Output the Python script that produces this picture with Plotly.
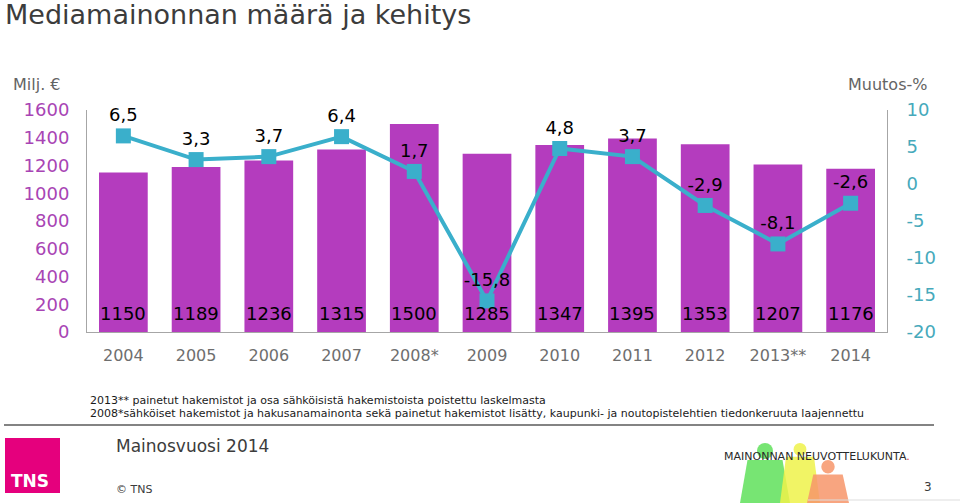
import plotly.graph_objects as go

years = ["2004", "2005", "2006", "2007", "2008*", "2009", "2010", "2011", "2012", "2013**", "2014"]
volume = [1150, 1189, 1236, 1315, 1500, 1285, 1347, 1395, 1353, 1207, 1176]
change = [6.5, 3.3, 3.7, 6.4, 1.7, -15.8, 4.8, 3.7, -2.9, -8.1, -2.6]
left_ticks = [0, 200, 400, 600, 800, 1000, 1200, 1400, 1600]
right_ticks = [-20, -15, -10, -5, 0, 5, 10]

W, H = 960, 503
L, R, T, B = 87, 73, 110, 171
PW, PH = W - L - R, H - T - B

def px(x):
    return (x - L) / PW

def py(y):
    return (H - B - y) / PH

FONT = "DejaVu Sans"
BAR_COLOR = "#b43cbe"
LINE_COLOR = "#3aafcb"

fig = go.Figure()
fig.add_trace(go.Bar(
    x=years, y=volume, marker=dict(color=BAR_COLOR, line=dict(width=0)),
    yaxis="y", showlegend=False, hoverinfo="skip",
))
fig.add_trace(go.Scatter(
    x=years, y=change, yaxis="y2", mode="lines+markers+text",
    line=dict(color=LINE_COLOR, width=4),
    marker=dict(symbol="square", size=15, color=LINE_COLOR),
    text=[f"{v:.1f}".replace(".", ",") for v in change],
    textposition="top center",
    textfont=dict(family=FONT, size=18, color="#000000"),
    showlegend=False, cliponaxis=False, hoverinfo="skip",
))

fig.update_layout(
    width=W, height=H,
    margin=dict(l=L, r=R, t=T, b=B, autoexpand=False),
    paper_bgcolor="white", plot_bgcolor="white",
    font=dict(family=FONT),
    bargap=0.33,
    hovermode=False,
    xaxis=dict(type="category", categoryorder="array", categoryarray=years,
               range=[-0.5, len(years) - 0.5],
               showline=True, linecolor="#a6a6a6", linewidth=1, showgrid=False, automargin=False,
               tickfont=dict(size=16, color="#6e6e6e"), ticks="", ticklabelstandoff=9),
    yaxis=dict(range=[0, 1600], tickvals=left_ticks, showgrid=False, zeroline=False, automargin=False,
               showline=True, linecolor="#a6a6a6", linewidth=1,
               tickfont=dict(size=18, color="#a844b4"), ticks="", ticklabelstandoff=13),
    yaxis2=dict(range=[-20, 10], tickvals=right_ticks, ticktext=[str(v) for v in right_ticks],
                overlaying="y", side="right", automargin=False,
                showgrid=False, zeroline=False, showline=True, linecolor="#a6a6a6", linewidth=1,
                tickfont=dict(size=18, color="#46a9bb"), ticks="", ticklabelstandoff=15),
)

ann = []
# bar value labels at the base of each bar (x given as category index)
for i, v in enumerate(volume):
    ann.append(dict(x=i, y=0, xref="x", yref="y", text=str(v), showarrow=False,
                    yanchor="bottom", yshift=6,
                    font=dict(family=FONT, size=18, color="#000000")))

def text(x, y, s, size, color="#404040", xanchor="left", yanchor="middle", bold=False):
    ann.append(dict(x=px(x), y=py(y), xref="paper", yref="paper", text=f"<b>{s}</b>" if bold else s,
                    showarrow=False, xanchor=xanchor, yanchor=yanchor,
                    font=dict(family=FONT, size=size, color=color)))

text(3, 14, "Mediamainonnan määrä ja kehitys", 27, "#3c3c3c")
text(11, 84, "Milj. €", 16, "#646464")
text(929, 84, "Muutos-%", 16, "#646464", xanchor="right")

shapes = []
# MNK logo silhouettes
def figure_shape(cx, top, w, color):
    head_r = w * 0.16
    shapes.append(dict(type="circle", xref="paper", yref="paper",
                       x0=px(cx - head_r), x1=px(cx + head_r), y0=py(top + 2 * head_r), y1=py(top),
                       fillcolor=color, line=dict(width=0), opacity=0.85, layer="above"))
    st = top + 2 * head_r + 1
    pts = [(cx - w * 0.35, st), (cx + w * 0.35, st), (cx + w * 0.5, 503), (cx - w * 0.5, 503)]
    path = "M " + " L ".join(f"{px(x)},{py(y)}" for x, y in pts) + " Z"
    shapes.append(dict(type="path", xref="paper", yref="paper", path=path,
                       fillcolor=color, line=dict(width=0), opacity=0.85, layer="above"))

figure_shape(765, 443, 50, "#5fe05a")
figure_shape(800, 443, 40, "#eef24a")
figure_shape(828, 460, 42, "#f7956a")

text(88, 400, "2013** painetut hakemistot ja osa sähköisistä hakemistoista poistettu laskelmasta", 11, "#1a1a1a")
text(88, 413, "2008*sähköiset hakemistot ja hakusanamainonta sekä painetut hakemistot lisätty, kaupunki- ja noutopistelehtien tiedonkeruuta laajennettu", 11, "#1a1a1a")
text(114, 446, "Mainosvuosi 2014", 17, "#3c3c3c")
text(114, 490, "© TNS", 11, "#3c3c3c")
text(934, 487, "3", 12, "#3c3c3c", xanchor="right")

# separator line
shapes.append(dict(type="line", xref="paper", yref="paper", x0=px(4), x1=px(934), y0=py(425), y1=py(425),
                   line=dict(color="#5a5a5a", width=1.5)))
# TNS logo
shapes.append(dict(type="rect", xref="paper", yref="paper", x0=px(5), x1=px(60), y0=py(493), y1=py(438),
                   fillcolor="#e5007d", line=dict(width=0)))
text(9, 481, "TNS", 17, "white", bold=True)
text(722, 456, "MAINONNAN NEUVOTTELUKUNTA<span style='color:#e03040'>.</span>", 11, "#2a2a2a")
shapes.append(dict(type="line", xref="paper", yref="paper", x0=px(808), x1=px(960), y0=py(500), y1=py(500),
                   line=dict(color="#dddddd", width=1)))

fig.update_layout(annotations=ann, shapes=shapes)
fig.write_html("out.html", config={"displayModeBar": False},
               post_script="document.body.style.margin='0';document.body.style.padding='0';")
